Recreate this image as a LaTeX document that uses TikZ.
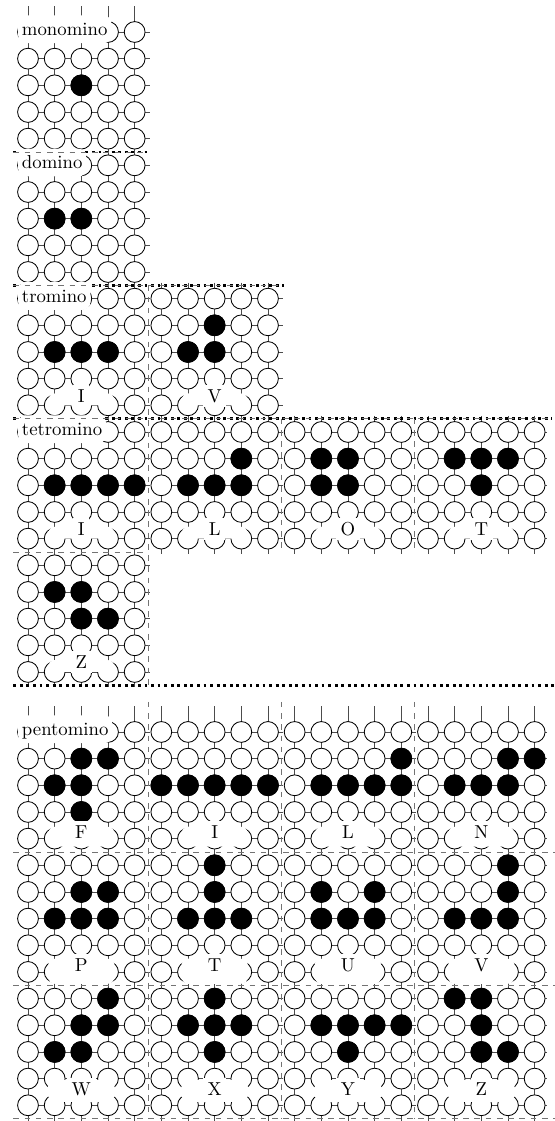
\documentclass[tikz,border=0pt]{standalone}
\pgfdeclarelayer{gridl}
\pgfdeclarelayer{sep}
\pgfdeclarelayer{lab}
\pgfdeclarelayer{dash}
\pgfsetlayers{gridl,main,sep,lab,dash}
\tikzset{
  gridline/.style={draw=black!70, line width=0.4pt},
  cell/.style={circle, draw=black, line width=0.45pt, fill=white, minimum size=0.39cm, inner sep=0pt},
  full/.style={fill=black},
  seclab/.style={fill=white, rounded corners=4pt, inner xsep=2pt, inner ysep=3.3pt, text height=7.4pt, text depth=0.8pt, anchor=base west},
  letlab/.style={fill=white, inner sep=2.5pt, text height=6.83pt, text depth=0pt},
  boxlab/.style={fill=white, rounded corners=4pt},
  sepline/.style={line width=1.5pt, dotted},
  pborder/.style={draw=black!55, line width=0.4pt, dashed},
}
% #1 id, #2 left x, #3 top y, #4 filled cells col/row, #5 top extension of vertical lines
\newcommand{\pnl}[5]{%
  \begin{pgfonlayer}{gridl}
    \foreach \jj in {0,...,4}{
      \draw[gridline] ({#2+0.5+\jj},{#3+0.5-#5}) -- ({#2+0.5+\jj},{#3+5.08});
      \draw[gridline] ({#2+0.5},{#3+0.5+\jj}) -- ({min(#2+5.06,20.5)},{#3+0.5+\jj});
    }
  \end{pgfonlayer}
  \foreach \jj in {0,...,4}{\foreach \ii in {0,...,4}{
    \node[cell] (#1-\jj-\ii) at ({#2+0.5+\jj},{#3+0.5+\ii}) {};}}
  \foreach \cx/\ry in {#4}{
    \node[cell,full] (#1-b\cx-\ry) at ({#2+0.5+\cx},{#3+0.5+\ry}) {};}
}
% #1 name, #2 centre x, #3 row-0 y, #4 letter y, #5 box top, #6 box bottom, #7 letter
\newcommand{\slab}[7]{%
  \begin{pgfonlayer}{lab}
    \fill[boxlab] ({#2-1.25},{#3+#5}) rectangle ({#2+1.25},{#3+#6});
    \node[letlab] (#1) at (#2,{#3+#4}) {#7};
  \end{pgfonlayer}}
\newcommand{\gA}[4]{\slab{#1}{#2}{#3}{3.64}{3.55}{4.0}{#4}}
\newcommand{\gB}[4]{\slab{#1}{#2}{#3}{3.75}{3.55}{4.3}{#4}}
\newcommand{\gC}[4]{\slab{#1}{#2}{#3}{3.74}{3.5}{4.45}{#4}}
\newcommand{\gD}[4]{\slab{#1}{#2}{#3}{3.39}{3.05}{3.87}{#4}}
\newcommand{\seclabel}[3]{%
  \begin{pgfonlayer}{lab}
    \node[seclab] (#1) at (0.67,{#2+0.5+0.13}) {#3};
  \end{pgfonlayer}}

\begin{document}
\begin{tikzpicture}[x=0.5cm,y=-0.5cm]
\useasboundingbox (0,0) rectangle (20.81,42.04);

% monomino
\pnl{mo}{0.55}{0.7}{2/2}{0.97}
% domino
\pnl{do}{0.55}{5.7}{1/2,2/2}{0.6}
% tromino
\pnl{trI}{0.55}{10.7}{1/2,2/2,3/2}{0.6}
\pnl{trV}{5.55}{10.7}{2/1,1/2,2/2}{0.6}
% tetromino
\pnl{teI}{0.55}{15.7}{1/2,2/2,3/2,4/2}{0.6}
\pnl{teL}{5.55}{15.7}{3/1,1/2,2/2,3/2}{0.6}
\pnl{teO}{10.55}{15.7}{1/1,2/1,1/2,2/2}{0.6}
\pnl{teT}{15.55}{15.7}{1/1,2/1,3/1,2/2}{0.6}
\pnl{teZ}{0.55}{20.7}{1/1,2/1,2/2,3/2}{0.6}
% pentomino
\pnl{pF}{0.55}{26.95}{2/1,3/1,1/2,2/2,2/3}{0.97}
\pnl{pI}{5.55}{26.95}{0/2,1/2,2/2,3/2,4/2}{0.97}
\pnl{pL}{10.55}{26.95}{4/1,1/2,2/2,3/2,4/2}{0.97}
\pnl{pN}{15.55}{26.95}{3/1,4/1,1/2,2/2,3/2}{0.97}
\pnl{pP}{0.55}{31.95}{2/1,3/1,1/2,2/2,3/2}{0.6}
\pnl{pT}{5.55}{31.95}{2/0,2/1,1/2,2/2,3/2}{0.6}
\pnl{pU}{10.55}{31.95}{1/1,3/1,1/2,2/2,3/2}{0.6}
\pnl{pV}{15.55}{31.95}{3/0,3/1,1/2,2/2,3/2}{0.6}
\pnl{pW}{0.55}{36.95}{3/0,2/1,3/1,1/2,2/2}{0.6}
\pnl{pX}{5.55}{36.95}{2/0,1/1,2/1,3/1,2/2}{0.6}
\pnl{pY}{10.55}{36.95}{1/1,2/1,3/1,4/1,2/2}{0.6}
\pnl{pZ}{15.55}{36.95}{1/0,2/0,2/1,2/2,3/2}{0.6}

% section separators
\begin{pgfonlayer}{sep}
  \draw[sepline] (0.5,5.7) -- (5.57,5.7);
  \draw[sepline] (0.5,10.7) -- (10.65,10.7);
  \draw[sepline] (0.5,15.7) -- (20.68,15.7);
  \draw[sepline] (0.5,25.72) -- (20.81,25.72);
\end{pgfonlayer}

% section labels
\seclabel{lmono}{0.7}{monomino}
\seclabel{ldom}{5.7}{domino}
\seclabel{ltro}{10.7}{tromino}
\seclabel{ltet}{15.7}{tetromino}
\seclabel{lpen}{26.95}{pentomino}

% shape labels
\gA{ltrI}{3.05}{11.2}{I}
\gA{ltrV}{8.05}{11.2}{V}
\gA{lteI}{3.05}{16.2}{I}
\gA{lteL}{8.05}{16.2}{L}
\gA{lteO}{13.05}{16.2}{O}
\gA{lteT}{18.05}{16.2}{T}
\gA{lteZ}{3.05}{21.2}{Z}
\gB{lpF}{3.05}{27.45}{F}
\gB{lpI}{8.05}{27.45}{I}
\gB{lpL}{13.05}{27.45}{L}
\gB{lpN}{18.05}{27.45}{N}
\gC{lpP}{3.05}{32.45}{P}
\gC{lpT}{8.05}{32.45}{T}
\gC{lpU}{13.05}{32.45}{U}
\gC{lpV}{18.05}{32.45}{V}
\gD{lpW}{3.05}{37.45}{W}
\gD{lpX}{8.05}{37.45}{X}
\gD{lpY}{13.05}{37.45}{Y}
\gD{lpZ}{18.05}{37.45}{Z}

% panel borders
\begin{pgfonlayer}{dash}
  \draw[pborder] (0.5,5.7) -- (5.55,5.7);
  \draw[pborder] (0.5,10.7) -- (10.55,10.7);
  \draw[pborder] (0.5,15.7) -- (20.55,15.7);
  \draw[pborder] (0.5,20.7) -- (5.55,20.7);
  \draw[pborder] (0.5,31.95) -- (20.81,31.95);
  \draw[pborder] (0.5,36.95) -- (20.81,36.95);
  \draw[pborder] (0.5,41.95) -- (20.81,41.95);
  \draw[pborder] (5.55,10.7) -- (5.55,25.7);
  \draw[pborder] (10.55,15.7) -- (10.55,20.7);
  \draw[pborder] (15.55,15.7) -- (15.55,20.7);
  \draw[pborder] (5.55,26.32) -- (5.55,41.95);
  \draw[pborder] (10.55,26.32) -- (10.55,41.95);
  \draw[pborder] (15.55,26.32) -- (15.55,41.95);
\end{pgfonlayer}
\end{tikzpicture}
\end{document}
